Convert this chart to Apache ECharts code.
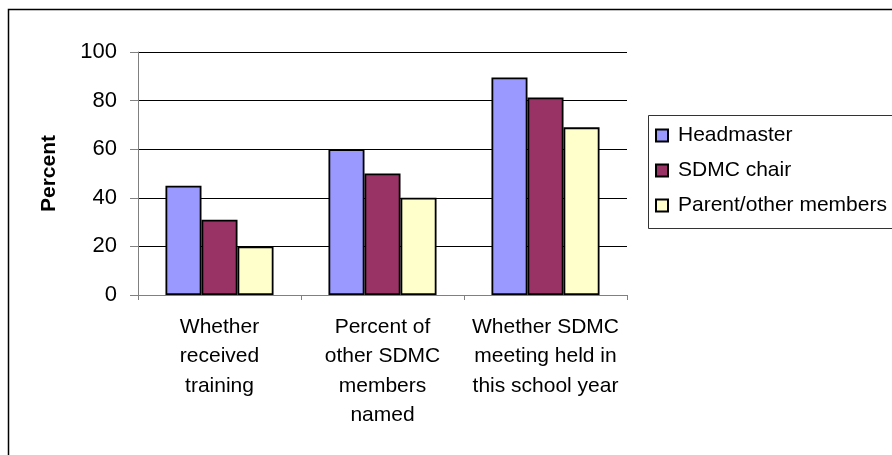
<!DOCTYPE html>
<html>
<head>
<meta charset="utf-8">
<script src="https://cdn.jsdelivr.net/npm/echarts@6/dist/echarts.min.js"></script>
<style>
html,body{margin:0;padding:0;background:#fff;}
#c{width:892px;height:455px;}
</style>
</head>
<body>
<div id="c"></div>
<script>
const categories = ["Whether\nreceived\ntraining", "Percent of\nother SDMC\nmembers\nnamed", "Whether SDMC\nmeeting held in\nthis school year"];
const seriesNames = ["Headmaster", "SDMC chair", "Parent/other members"];
const headmaster = [45, 60, 89.5];
const sdmcChair = [31, 50, 81.3];
const parentOther = [20, 40, 69];
const yTicks = [0, 20, 40, 60, 80, 100];
const colors = ["#9999FF", "#993366", "#FFFFCC"];

const font = "Liberation Sans, Arial, sans-serif";
const chart = echarts.init(document.getElementById('c'), null, {renderer: 'canvas'});
const values = [headmaster, sdmcChair, parentOther];
chart.setOption({
  animation: false,
  backgroundColor: '#fff',
  textStyle: {fontFamily: font},
  graphic: [
    {type: 'rect', shape: {x: 8.5, y: 9.5, width: 900, height: 460}, style: {fill: 'none', stroke: '#000', lineWidth: 1.5}, z: 0},
    {type: 'rect', shape: {x: 648.5, y: 115.5, width: 260, height: 113}, style: {fill: 'none', stroke: '#333', lineWidth: 1}, z: 0}
  ],
  legend: {
    orient: 'vertical',
    left: 655,
    top: 125,
    padding: 0,
    itemGap: 14,
    itemWidth: 12,
    itemHeight: 12,
    icon: 'rect',
    textStyle: {fontFamily: font, fontSize: 21, color: '#000', padding: [0, 0, 0, 5]},
    data: seriesNames
  },
  grid: {left: 138, top: 52, width: 489, height: 243, containLabel: false},
  xAxis: {
    type: 'category',
    data: categories,
    axisLine: {lineStyle: {color: '#808080', width: 1}},
    axisTick: {show: true, length: 5, alignWithLabel: false, lineStyle: {color: '#808080'}},
    axisLabel: {color: '#000', fontSize: 21, lineHeight: 29.5, margin: 17, fontFamily: font, interval: 0}
  },
  yAxis: {
    type: 'value',
    min: 0, max: 100, interval: 20,
    name: 'Percent',
    nameLocation: 'middle',
    nameRotate: 90,
    nameGap: 78,
    nameTextStyle: {fontSize: 21, fontWeight: 'bold', color: '#000', fontFamily: font},
    axisLine: {show: true, lineStyle: {color: '#808080', width: 1}},
    axisTick: {show: true, length: 8, lineStyle: {color: '#808080'}},
    axisLabel: {color: '#000', fontSize: 22, margin: 21, fontFamily: font,
      formatter: v => yTicks.includes(v) ? String(v) : ''},
    splitLine: {show: true, lineStyle: {color: '#000', width: 1}}
  },
  series: seriesNames.map((n, i) => ({
    name: n,
    type: 'bar',
    data: values[i],
    barGap: '0%',
    barCategoryGap: '33.7%',
    itemStyle: {color: colors[i], borderColor: '#000', borderWidth: 1.8},
    z: 3
  }))
});
</script>
</body>
</html>
